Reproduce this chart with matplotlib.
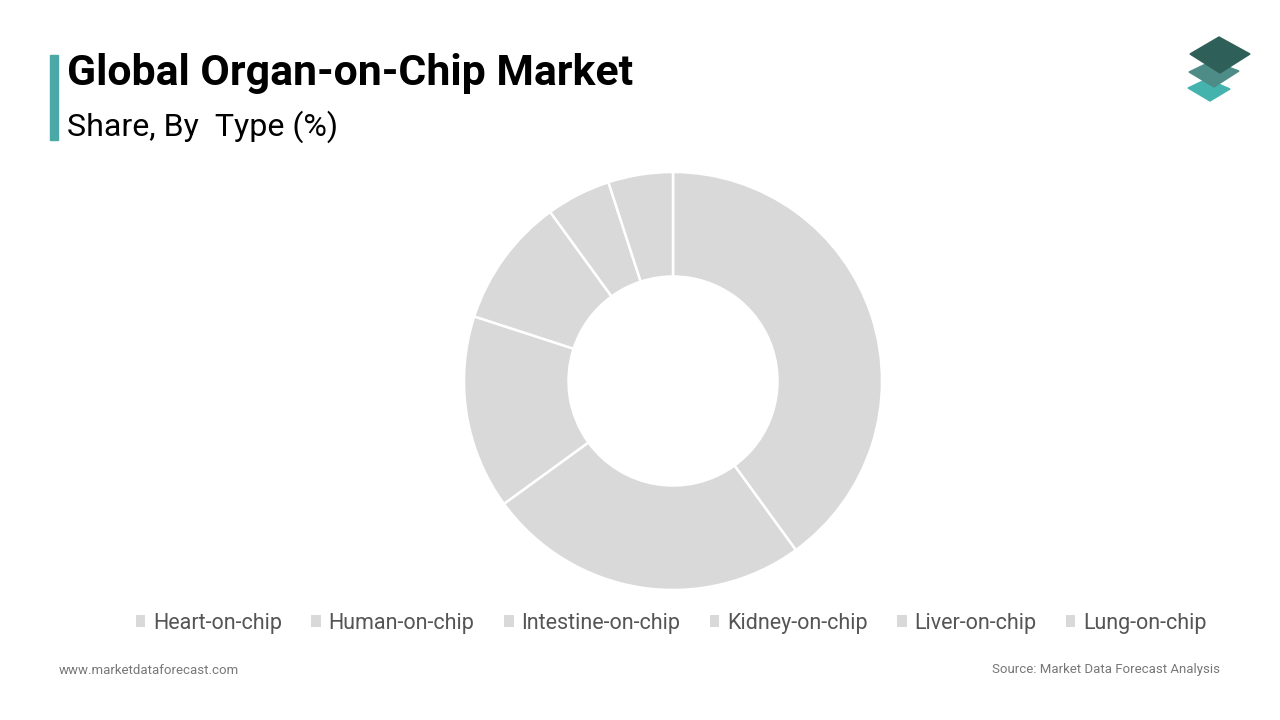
import matplotlib.pyplot as plt
from matplotlib.patches import Rectangle, Polygon, Patch

plt.rcParams['font.family'] = ['Roboto', 'DejaVu Sans']

types = ['Heart-on-chip', 'Human-on-chip', 'Intestine-on-chip',
         'Kidney-on-chip', 'Liver-on-chip', 'Lung-on-chip']
shares = [40, 25, 15, 10, 5, 5]
slice_color = '#d9d9d9'

W, H = 1280, 720
fig = plt.figure(figsize=(12.8, 7.2), dpi=100)
fig.patch.set_facecolor('white')

# donut, center (673, 381) radius 209 px
cx, cy, r = 673, 381, 209
ax = fig.add_axes([(cx - r) / W, (H - cy - r) / H, 2 * r / W, 2 * r / H])
ax.pie(shares, colors=[slice_color] * len(shares), startangle=90,
       counterclock=False, radius=1,
       wedgeprops=dict(width=0.5, edgecolor='white', linewidth=1.8))
ax.set_xlim(-1, 1)
ax.set_ylim(-1, 1)
ax.set_aspect('equal')
ax.axis('off')

# title block
fig.patches.append(Rectangle((50 / W, 1 - 140 / H), 8 / W, 85 / H,
                             transform=fig.transFigure, color='#4aa9a6'))
fig.text(67 / W, 1 - 73 / H, 'Global Organ-on-Chip Market', fontsize=30.8,
         fontweight='bold', va='center', ha='left', color='black')
fig.text(67 / W, 1 - 127 / H, 'Share, By  Type (%)', fontsize=23.1,
         va='center', ha='left', color='black')

# logo: three stacked tiles
def tile(pts, color):
    fig.patches.append(Polygon([(x / W, 1 - y / H) for x, y in pts],
                               closed=True, transform=fig.transFigure,
                               color=color))

tile([(1188, 88), (1207, 79), (1230, 89), (1210, 101)], '#44b3ae')
tile([(1189, 72), (1212, 61), (1239, 71), (1214, 87)], '#4e8c87')
tile([(1190, 54), (1219, 37), (1250, 54), (1220, 73)], '#2f5f59')

# legend
handles = [Patch(facecolor=slice_color, edgecolor='none') for _ in types]
fig.legend(handles, types, loc='center', bbox_to_anchor=(671 / W, 1 - 623 / H),
           ncol=6, frameon=False, fontsize=15.5, handlelength=0.45,
           handleheight=0.45, handletextpad=0.35, columnspacing=1.37,
           labelcolor='#555555')

# footer
fig.text(59 / W, 1 - 670 / H, 'www.marketdataforecast.com', fontsize=9.5,
         color='#777777', va='center', ha='left')
fig.text(1220 / W, 1 - 670 / H, 'Source: Market Data Forecast Analysis',
         fontsize=9.5, color='#777777', va='center', ha='right')

fig.savefig('out.png', dpi=100, facecolor='white')
